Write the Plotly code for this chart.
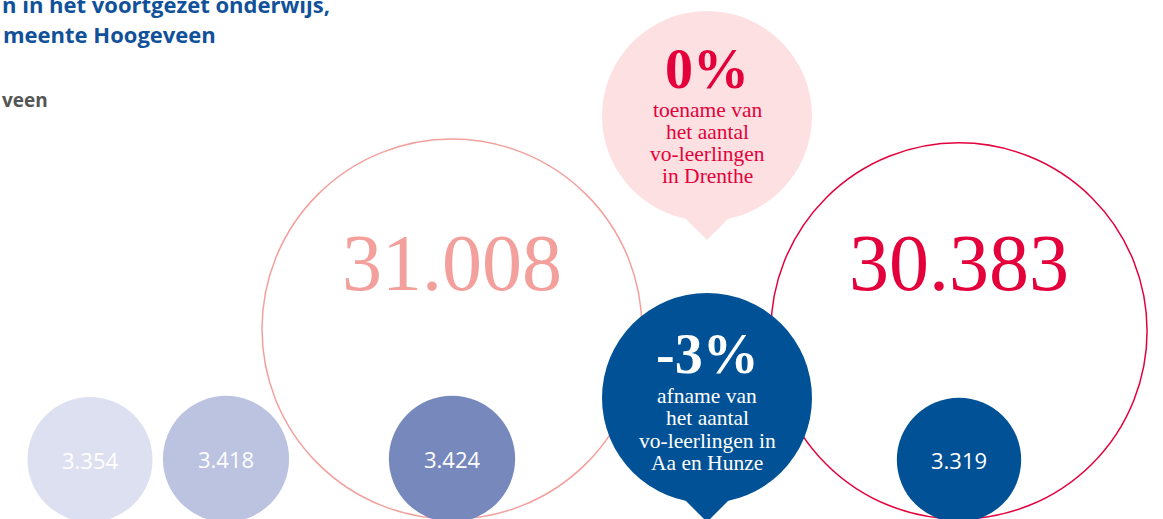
import math
import plotly.graph_objects as go

W, H = 1163, 519

# ---------------- data ----------------
hoogeveen_labels = ["3.354", "3.418", "3.424", "3.319"]
hoogeveen_values = [3354, 3418, 3424, 3319]
hoogeveen_colors = ["#DDE0F0", "#BBC3E1", "#7789BC", "#005195"]

drenthe_labels = ["31.008", "30.383"]
drenthe_values = [31008, 30383]
drenthe_colors = ["#F3A09D", "#E4003B"]

bubble_pcts = ["0%", "-3%"]
bubble_lines = [
    ["toename van", "het aantal", "vo-leerlingen", "in Drenthe"],
    ["afname van", "het aantal", "vo-leerlingen in", "Aa en Hunze"],
]
bubble_fill = ["#FDE1E2", "#005195"]
bubble_text = ["#E4003B", "#FFFFFF"]

title_lines = ["n in het voortgezet onderwijs,", "meente Hoogeveen"]
subtitle = "veen"

# ---------------- layout constants ----------------
K = 190 / math.sqrt(max(drenthe_values))  # px radius per sqrt(value)
small_x = [90, 226, 452, 959]
small_bottom = 522
big_x = [452, 959]
big_bottom = 519
bubble_x = 707
bubble_y = [116, 398]
bubble_r = 105
pointer_half = 40  # half diagonal of diamond pointer
pointer_tip = 124  # distance from bubble centre to pointer tip

SERIF = "Liberation Serif"
SANS = "Open Sans"


def rad(v):
    return K * math.sqrt(v)


fig = go.Figure()

# big outlined circles (Drenthe)
fig.add_trace(go.Scatter(
    x=big_x,
    y=[big_bottom - rad(v) for v in drenthe_values],
    mode="markers",
    marker=dict(size=[2 * rad(v) for v in drenthe_values],
                color="rgba(255,255,255,0)", opacity=1,
                line=dict(color=drenthe_colors, width=1.5)),
    hoverinfo="skip", cliponaxis=False,
))

# small filled circles (Hoogeveen)
fig.add_trace(go.Scatter(
    x=small_x,
    y=[small_bottom - rad(v) for v in hoogeveen_values],
    mode="markers",
    marker=dict(size=[2 * rad(v) for v in hoogeveen_values],
                color=hoogeveen_colors, opacity=1, line=dict(width=0)),
    hoverinfo="skip", cliponaxis=False,
))

# speech bubbles: pointer (diamond) + circle
for i in range(2):
    fig.add_trace(go.Scatter(
        x=[bubble_x], y=[bubble_y[i] + pointer_tip - pointer_half],
        mode="markers",
        marker=dict(symbol="diamond", size=pointer_half / 0.65, opacity=1,
                    color=bubble_fill[i], line=dict(width=0)),
        hoverinfo="skip", cliponaxis=False,
    ))
    fig.add_trace(go.Scatter(
        x=[bubble_x], y=[bubble_y[i]],
        mode="markers",
        marker=dict(size=2 * bubble_r, color=bubble_fill[i], opacity=1,
                    line=dict(width=0)),
        hoverinfo="skip", cliponaxis=False,
    ))

annotations = []


def ann(x, baseline, text, size, color, family, ratio, weight="normal",
        xanchor="center"):
    annotations.append(dict(
        x=x, y=baseline - ratio * size, xref="x", yref="y",
        text=text, showarrow=False, xanchor=xanchor, yanchor="middle",
        font=dict(family=family, size=size, color=color, weight=weight),
    ))


SERIF_R = 0.3375
SANS_R = 0.388

# big numbers
for i, lab in enumerate(drenthe_labels):
    ann(big_x[i], 290, lab, 80, drenthe_colors[i], SERIF, SERIF_R)

# small numbers
for i, lab in enumerate(hoogeveen_labels):
    cy = small_bottom - rad(hoogeveen_values[i])
    ann(small_x[i], cy + 0.39 * 22, lab, 22, "#FFFFFF", SANS, SANS_R)

# bubble texts
pct_base = [-28, -25]
line_base = [[1, 23, 45, 67], [5, 27.5, 50, 72.5]]
for i in range(2):
    ann(bubble_x, bubble_y[i] + pct_base[i], bubble_pcts[i], 56, bubble_text[i],
        SERIF, SERIF_R, weight="bold")
    for j, t in enumerate(bubble_lines[i]):
        ann(bubble_x, bubble_y[i] + line_base[i][j], t, 21.5, bubble_text[i],
            SERIF, SERIF_R)

# title / subtitle
ann(0, 13, title_lines[0], 22, "#11519A", SANS, SANS_R, weight="bold", xanchor="left")
ann(1, 43, title_lines[1], 22, "#11519A", SANS, SANS_R, weight="bold", xanchor="left")
ann(-0.5 + 0.5, 107, subtitle, 19, "#555555", SANS, SANS_R, weight="bold", xanchor="left")

fig.update_layout(
    width=W, height=H,
    margin=dict(l=0, r=0, t=0, b=0),
    paper_bgcolor="white", plot_bgcolor="white",
    showlegend=False,
    xaxis=dict(range=[0, W], visible=False, fixedrange=True),
    yaxis=dict(range=[H, 0], visible=False, fixedrange=True),
    annotations=annotations,
)

fig.write_html("out.html", config={"displayModeBar": False},
               post_script="document.body.style.margin='0';")
